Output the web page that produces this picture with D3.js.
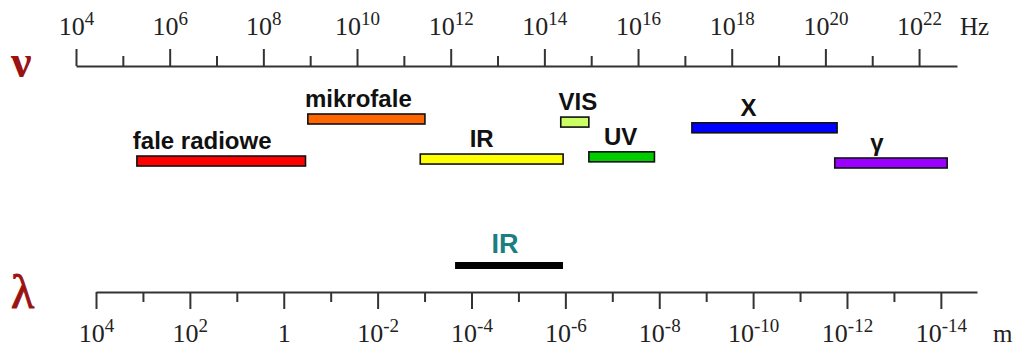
<!DOCTYPE html>
<html>
<head>
<meta charset="utf-8">
<script src="https://cdn.jsdelivr.net/npm/d3@7"></script>
<style>
  body { margin: 0; background: #fff; }
  .axis path, .axis line { stroke: #333; stroke-width: 2; }
  .ticklab { font-family: "Liberation Serif", "Times New Roman", serif; fill: #222; }
  .band-label { font-family: "Liberation Sans", Arial, sans-serif; font-weight: bold; fill: #111; }
</style>
</head>
<body>
<svg id="chart" width="1018" height="347"></svg>
<script>
// frequency axis (log10 Hz)
const freqMajor = [4, 6, 8, 10, 12, 14, 16, 18, 20, 22];
const freqMinor = [5, 7, 9, 11, 13, 15, 17, 19, 21];
const freqMax = 22.81;

// wavelength axis (log10 m)
const waveMajor = [4, 2, 0, -2, -4, -6, -8, -10, -12, -14];
const waveMinor = [3, 1, -1, -3, -5, -7, -9, -11, -13];
const waveMin = -14.77;

// spectrum bands, in log10 Hz
const bandNames = ["fale radiowe", "mikrofale", "IR", "VIS", "UV", "X", "γ"];
const bandFrom = [5.3, 8.95, 11.35, 14.35, 14.95, 17.15, 20.2];
const bandTo = [8.9, 11.45, 14.4, 14.95, 16.35, 20.25, 22.6];
const bandColors = ["#ff0000", "#ff6600", "#ffff00", "#ccff66", "#00cc00", "#0000ff", "#9900ff"];
// vertical level of each band (0 = upper row, 1 = lower row)
const bandLevel = [0.955, 0, 0.91, 0.07, 0.86, 0.2, 1];
const labelShift = [-19, -8, -10, 3, -1, -16, -14];

// IR band in wavelength, log10 m
const irWaveFrom = -3.65;
const irWaveTo = -5.95;

const svg = d3.select("#chart");

/** Set up scales */
let freqScale = d3.scaleLog()
    .domain([1e4, Math.pow(10, freqMax)])
    .range([76, 957]);

let waveScale = d3.scaleLog()
    .domain([1e4, Math.pow(10, waveMin)])
    .range([96, 977]);

let levelScale = d3.scaleLinear().domain([0, 1]).range([114, 158]);

// writes 10^n as "10" + superscript
function powerLabel(sel) {
    sel.each(function (d) {
        let n = Math.round(Math.log10(d));
        let t = d3.select(this).text(null);
        if (n === 0) {
            t.append("tspan").text("1");
            return;
        }
        t.append("tspan").text("10");
        t.append("tspan")
            .attr("dy", -10)
            .style("font-size", "19px")
            .text(n);
    });
}

// ---- top (frequency) axis
let gTop = svg.append("g").attr("class", "axis").attr("transform", "translate(0,66)");

gTop.call(d3.axisTop(freqScale)
    .tickValues(freqMajor.map(e => Math.pow(10, e)))
    .tickSize(17)
    .tickSizeOuter(0)
    .tickPadding(14));

gTop.selectAll(".tick text")
    .attr("class", "ticklab")
    .attr("font-size", null)
    .attr("font-family", null)
    .style("font-size", "26px")
    .call(powerLabel);

let gTopMinor = svg.append("g").attr("class", "axis").attr("transform", "translate(0,66)");
gTopMinor.call(d3.axisTop(freqScale)
    .tickValues(freqMinor.map(e => Math.pow(10, e)))
    .tickSize(10)
    .tickFormat(""));
gTopMinor.select(".domain").remove();

svg.append("text")
    .attr("class", "ticklab")
    .attr("x", freqScale(Math.pow(10, freqMax)) + 3)
    .attr("y", 35)
    .style("font-size", "25px")
    .text("Hz");

// ---- bottom (wavelength) axis
let gBot = svg.append("g").attr("class", "axis").attr("transform", "translate(0,292)");

gBot.call(d3.axisBottom(waveScale)
    .tickValues(waveMajor.map(e => Math.pow(10, e)))
    .tickSize(17)
    .tickSizeOuter(0)
    .tickPadding(33));

gBot.selectAll(".tick text")
    .attr("class", "ticklab")
    .attr("font-size", null)
    .attr("font-family", null)
    .attr("dy", 0)
    .style("font-size", "26px")
    .call(powerLabel);

let gBotMinor = svg.append("g").attr("class", "axis").attr("transform", "translate(0,292)");
gBotMinor.call(d3.axisBottom(waveScale)
    .tickValues(waveMinor.map(e => Math.pow(10, e)))
    .tickSize(10)
    .tickFormat(""));
gBotMinor.select(".domain").remove();

svg.append("text")
    .attr("class", "ticklab")
    .attr("x", waveScale(Math.pow(10, waveMin)) + 16)
    .attr("y", 342)
    .style("font-size", "25px")
    .text("m");

// ---- nu / lambda symbols
svg.append("text")
    .attr("x", 11)
    .attr("y", 77)
    .style("font-family", "'Liberation Serif', serif")
    .style("font-weight", "bold")
    .style("font-size", "46px")
    .style("fill", "#9b1212")
    .text("ν");

svg.append("text")
    .attr("x", 11)
    .attr("y", 308)
    .style("font-family", "'Liberation Serif', serif")
    .style("font-size", "48px")
    .style("fill", "#9b1212")
    .style("stroke", "#9b1212")
    .style("stroke-width", 1)
    .text("λ");

// ---- bands
let bands = bandNames.map((name, i) => ({
    name: name,
    from: bandFrom[i],
    to: bandTo[i],
    color: bandColors[i],
    level: bandLevel[i],
    shift: labelShift[i]
}));

let bg = svg.selectAll("g.band")
    .data(bands)
    .enter()
    .append("g")
    .attr("class", "band");

bg.append("rect")
    .attr("x", d => freqScale(Math.pow(10, d.from)))
    .attr("y", d => levelScale(d.level))
    .attr("width", d => freqScale(Math.pow(10, d.to)) - freqScale(Math.pow(10, d.from)))
    .attr("height", 10)
    .style("fill", d => d.color)
    .style("stroke", "#111")
    .style("stroke-width", 1.6);

bg.append("text")
    .attr("class", "band-label")
    .attr("x", d => (freqScale(Math.pow(10, d.from)) + freqScale(Math.pow(10, d.to))) / 2 + d.shift)
    .attr("y", d => levelScale(d.level) - 7)
    .attr("text-anchor", "middle")
    .style("font-size", "24px")
    .text(d => d.name);

// ---- IR band on the wavelength scale
svg.append("rect")
    .attr("x", waveScale(Math.pow(10, irWaveFrom)))
    .attr("y", 262)
    .attr("width", waveScale(Math.pow(10, irWaveTo)) - waveScale(Math.pow(10, irWaveFrom)))
    .attr("height", 7)
    .style("fill", "#000");

svg.append("text")
    .attr("class", "band-label")
    .attr("x", (waveScale(Math.pow(10, irWaveFrom)) + waveScale(Math.pow(10, irWaveTo))) / 2 - 4)
    .attr("y", 253)
    .attr("text-anchor", "middle")
    .style("font-size", "27px")
    .style("fill", "#1b7f82")
    .text("IR");
</script>
</body>
</html>
